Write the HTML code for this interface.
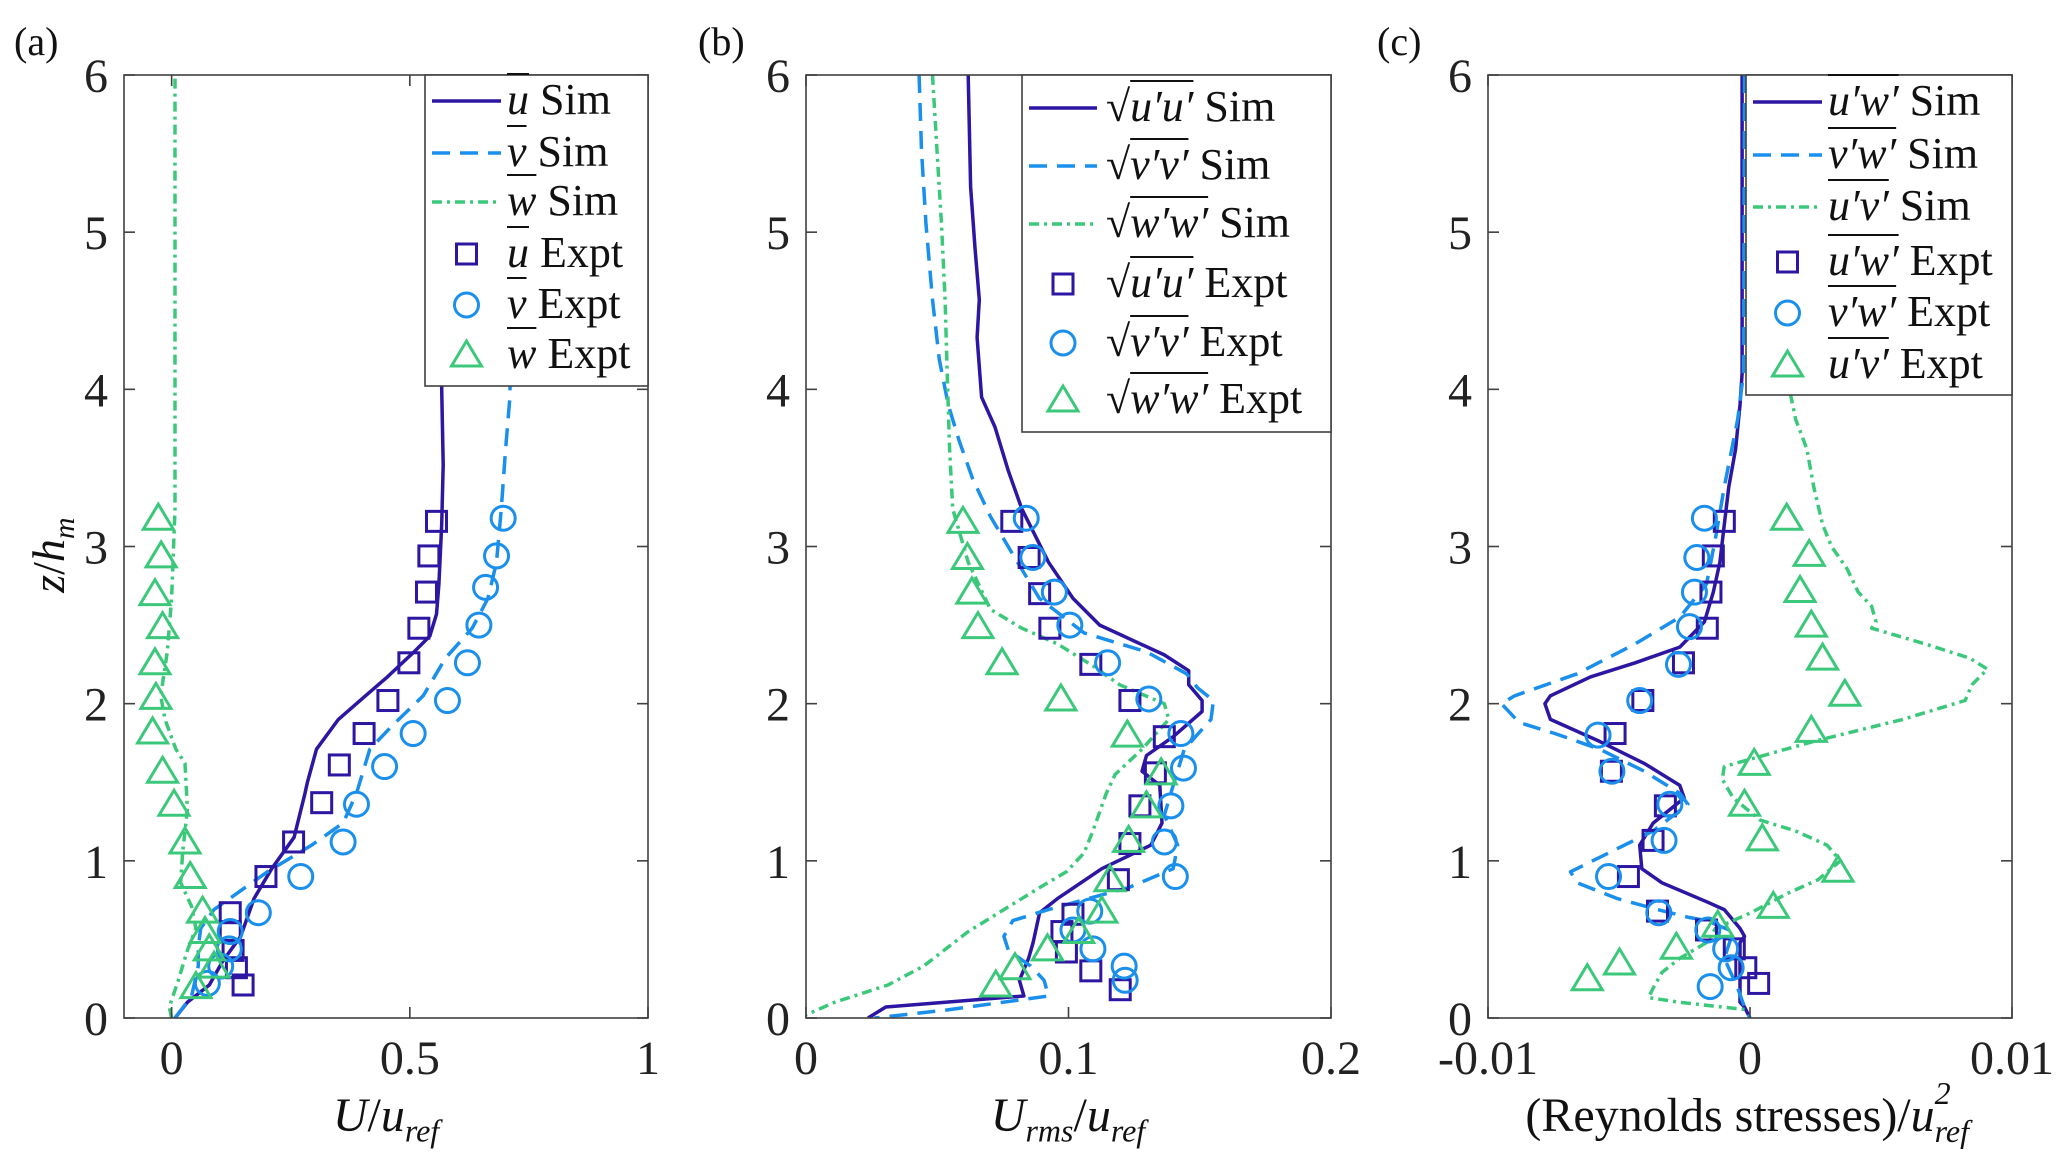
<!DOCTYPE html>
<html><head><meta charset="utf-8">
<style>
body{margin:0;background:#fff;}
#wrap{position:relative;width:2067px;height:1173px;overflow:hidden;font-family:"Liberation Serif",serif;}
svg{position:absolute;left:0;top:0;}
svg text{font-family:"Liberation Serif",serif;}
.lt{position:absolute;font-size:44px;white-space:nowrap;line-height:1;color:#111;font-family:"Liberation Serif",serif;}
.ov{text-decoration:overline;text-decoration-thickness:2px;font-style:italic;}
.it{font-style:italic;}
</style></head>
<body>
<div id="wrap">
<svg id="chart" width="2067" height="1173"></svg>
</div>
<script>
// ---------- Panel (a) data ----------
const aUExptX=[0.556,0.540,0.535,0.519,0.498,0.454,0.404,0.352,0.315,0.256,0.198,0.123,0.123,0.129,0.136,0.150];
const aUExptZ=[3.16,2.94,2.71,2.48,2.26,2.02,1.81,1.61,1.37,1.12,0.90,0.67,0.55,0.43,0.32,0.21];
const aVExptX=[0.696,0.682,0.659,0.645,0.621,0.579,0.507,0.447,0.388,0.360,0.271,0.182,0.123,0.121,0.103,0.075];
const aVExptZ=[3.18,2.94,2.74,2.50,2.26,2.02,1.81,1.60,1.36,1.12,0.90,0.67,0.55,0.44,0.33,0.22];
const aWExptX=[-0.028,-0.022,-0.035,-0.019,-0.035,-0.033,-0.040,-0.019,0.005,0.028,0.039,0.065,0.070,0.079,0.089,0.051];
const aWExptZ=[3.18,2.94,2.70,2.49,2.26,2.04,1.82,1.57,1.36,1.12,0.90,0.68,0.55,0.44,0.33,0.20];
const aUSimX=[0.007,0.033,0.079,0.107,0.145,0.173,0.210,0.257,0.280,0.285,0.304,0.350,0.407,0.453,0.509,0.542,0.556,0.561,0.567,0.570,0.567,0.570];
const aUSimZ=[0,0.10,0.21,0.36,0.52,0.76,0.95,1.15,1.43,1.50,1.71,1.90,2.05,2.17,2.33,2.43,2.57,2.76,3.14,3.52,4.0,6.0];
const aVSimX=[0.007,0.042,0.056,0.056,0.061,0.089,0.145,0.201,0.294,0.360,0.388,0.416,0.463,0.528,0.575,0.631,0.664,0.682,0.692,0.701,0.710,0.720];
const aVSimZ=[0,0.14,0.33,0.45,0.57,0.69,0.81,0.93,1.10,1.24,1.43,1.71,1.86,2.05,2.29,2.48,2.67,2.90,3.24,3.62,3.95,6.0];
const aWSimX=[0,-0.005,0.014,0.033,0.051,0.042,0.019,0.023,0.033,0.028,0.009,-0.014,-0.023,-0.009,0,0.007,0.007,0.007];
const aWSimZ=[0,0.07,0.24,0.43,0.57,0.71,0.86,1.05,1.33,1.62,1.71,1.90,2.05,2.33,2.67,3.24,4.1,6.0];
const aXTicks=[0,0.5,1]; const aXTickLabels=["0","0.5","1"];
// ---------- Panel (b) data ----------
const bUExptX=[0.0784,0.0850,0.0890,0.0929,0.1085,0.1234,0.1365,0.1331,0.1272,0.1234,0.1190,0.1017,0.0975,0.0992,0.1085,0.1197];
const bUExptZ=[3.16,2.93,2.70,2.48,2.25,2.02,1.79,1.56,1.35,1.11,0.88,0.66,0.55,0.42,0.30,0.18];
const bVExptX=[0.0839,0.0864,0.0946,0.1005,0.1149,0.1306,0.1428,0.1438,0.1390,0.1365,0.1407,0.1081,0.1017,0.1093,0.1212,0.1216];
const bVExptZ=[3.18,2.93,2.71,2.50,2.26,2.03,1.81,1.59,1.35,1.12,0.90,0.68,0.56,0.44,0.33,0.24];
const bWExptX=[0.0598,0.0615,0.0632,0.0655,0.0747,0.0971,0.1224,0.1353,0.1297,0.1229,0.1158,0.1127,0.1039,0.0920,0.0796,0.0723];
const bWExptZ=[3.16,2.93,2.71,2.49,2.26,2.03,1.80,1.56,1.35,1.13,0.88,0.68,0.55,0.44,0.32,0.21];
const bUSimX=[0.0618,0.0627,0.0644,0.0660,0.0652,0.0669,0.0720,0.0771,0.0822,0.0924,0.1017,0.1119,0.1365,0.1458,0.1458,0.1509,0.1509,0.1399,0.1297,0.1280,0.1348,0.1356,0.1314,0.1127,0.0958,0.0890,0.0865,0.0848,0.0813,0.0830,0.0304,0.0236];
const bUSimZ=[6.0,5.29,4.90,4.57,4.33,3.95,3.76,3.48,3.24,2.90,2.67,2.50,2.31,2.21,2.12,2.02,1.95,1.79,1.67,1.57,1.48,1.24,1.10,0.95,0.76,0.67,0.48,0.38,0.24,0.14,0.07,0];
const bVSimX=[0.0431,0.0440,0.0457,0.0482,0.0508,0.0542,0.0584,0.0635,0.0703,0.0788,0.0889,0.1059,0.1297,0.1450,0.1492,0.1552,0.1543,0.1484,0.1441,0.1399,0.1365,0.1416,0.1399,0.1229,0.1076,0.0924,0.0788,0.0754,0.0771,0.0856,0.0907,0.0924,0.0533,0.0261];
const bVSimZ=[6,5.52,5.05,4.57,4.19,3.90,3.67,3.43,3.19,2.95,2.67,2.45,2.33,2.19,2.10,2.02,1.90,1.79,1.71,1.48,1.29,1.10,0.95,0.83,0.76,0.69,0.62,0.52,0.43,0.33,0.24,0.14,0.05,0];
const bWSimX=[0.0482,0.0499,0.0516,0.0530,0.0538,0.0547,0.0559,0.0618,0.0703,0.0822,0.0958,0.1093,0.1195,0.1365,0.1382,0.1280,0.1178,0.1144,0.1093,0.1059,0.0992,0.0890,0.0754,0.0618,0.0448,0.0312,0.0109,0];
const bWSimZ=[6,5.52,5.05,4.57,4.10,3.62,3.24,2.90,2.60,2.48,2.38,2.24,2.12,2.00,1.90,1.71,1.55,1.43,1.19,1.05,0.93,0.83,0.69,0.55,0.33,0.21,0.10,0.02];
const bXTicks=[0,0.1,0.2]; const bXTickLabels=["0","0.1","0.2"];
// ---------- Panel (c) data (x in 1e-3) ----------
const cUWExptX=[-0.98,-1.40,-1.49,-1.63,-2.54,-4.09,-5.15,-5.29,-3.23,-3.70,-4.64,-3.53,-1.66,-0.60,-0.16,0.33];
const cUWExptZ=[3.16,2.94,2.71,2.48,2.26,2.02,1.81,1.57,1.35,1.13,0.90,0.68,0.56,0.44,0.32,0.22];
const cVWExptX=[-1.74,-2.03,-2.12,-2.31,-2.73,-4.21,-5.80,-5.27,-3.06,-3.28,-5.40,-3.48,-1.61,-0.93,-0.72,-1.52];
const cVWExptZ=[3.18,2.93,2.71,2.49,2.25,2.02,1.80,1.57,1.36,1.13,0.90,0.67,0.56,0.44,0.32,0.20];
const cUVExptX=[1.40,2.26,1.91,2.34,2.77,3.62,2.34,0.16,-0.21,0.47,3.36,0.89,-1.23,-2.81,-4.98,-6.21];
const cUVExptZ=[3.18,2.95,2.72,2.50,2.29,2.06,1.83,1.62,1.36,1.14,0.94,0.71,0.59,0.45,0.35,0.25];
const cUWSimX=[-0.30,-0.30,-0.38,-0.55,-0.81,-0.98,-1.15,-1.40,-1.74,-2.68,-4.38,-6.09,-7.62,-7.83,-7.62,-5.74,-4.04,-2.68,-2.51,-3.70,-4.21,-4.13,-3.36,-1.66,-0.98,-0.38,-0.21,-0.38,-0.38,-0.21,0];
const cUWSimZ=[6,4.10,3.90,3.62,3.38,3.14,2.90,2.71,2.52,2.36,2.26,2.17,2.05,2.00,1.90,1.76,1.62,1.48,1.40,1.24,1.10,0.95,0.86,0.74,0.69,0.57,0.52,0.48,0.10,0.07,0];
const cVWSimX=[-0.21,-0.25,-0.47,-0.98,-1.32,-1.66,-2.68,-4.38,-6.60,-8.98,-9.49,-8.81,-7.45,-5.74,-4.04,-2.68,-2.37,-3.70,-5.40,-6.85,-6.60,-5.06,-3.53,-2.34,-1.66,-0.64,-0.98,-0.47,-0.21,0];
const cVWSimZ=[6,4.10,3.81,3.38,3.05,2.76,2.55,2.38,2.19,2.05,2.00,1.88,1.81,1.71,1.57,1.43,1.36,1.19,1.05,0.93,0.86,0.76,0.69,0.64,0.62,0.55,0.38,0.19,0.07,0];
const cUVSimX=[0,0.3,1.0,1.40,1.57,1.74,2.17,2.43,2.77,3.11,3.70,4.13,4.64,4.81,4.64,6.68,8.38,9.06,8.47,8.21,5.83,2.43,-0.98,-1.06,-0.64,0.38,1.74,2.94,3.45,2.60,1.40,0.04,-1.32,-1.66,-2.68,-3.36,-3.70,-3.87,-2.68,0];
const cUVSimZ=[6,5,4.4,4.1,3.95,3.81,3.62,3.38,3.14,3.00,2.86,2.71,2.62,2.52,2.48,2.38,2.29,2.22,2.12,2.02,1.90,1.76,1.60,1.52,1.40,1.26,1.19,1.10,1.00,0.88,0.79,0.67,0.57,0.48,0.38,0.29,0.19,0.13,0.10,0.05];
const cXTicks=[-10,0,10]; const cXTickLabels=["-0.01","0","0.01"];
const zTicks=[0,1,2,3,4,5,6];

const C_U='#2c16a2', C_V='#1a8fec', C_W='#3cc87a';
const NS='http://www.w3.org/2000/svg';
const svg=document.getElementById('chart');
function mk(tag,attrs,parent){const e=document.createElementNS(NS,tag);for(const k in attrs)e.setAttribute(k,attrs[k]);(parent||svg).appendChild(e);return e;}

function panel(p){
  const g=mk('g',{});
  
  
  const X=v=>p.L+(v-p.xmin)/(p.xmax-p.xmin)*(p.R-p.L);
  const Z=v=>p.B-(v/6)*(p.B-p.T);
  const clipId='clip'+p.key;
  const cp=mk('clipPath',{id:clipId},g); mk('rect',{x:p.L,y:p.T,width:p.R-p.L,height:p.B-p.T},cp);
  const plot=mk('g',{'clip-path':'url(#'+clipId+')'},g);
  p.lines.forEach(s=>{
    const d=s.x.map((v,i)=>(i?'L':'M')+X(v).toFixed(1)+','+Z(s.z[i]).toFixed(1)).join('');
    const path=mk('path',{d:d,fill:'none',stroke:s.c,'stroke-width':3.5,'stroke-dasharray':s.dash||'none','stroke-linejoin':'round'},plot);
    
    
  });
  p.marks.forEach(s=>{
    s.x.forEach((v,i)=>{
      const m=marker(plot,s.m,X(v),Z(s.z[i]),s.c);
      
      
    });
  });
  const box=mk('rect',{x:p.L,y:p.T,width:p.R-p.L,height:p.B-p.T,fill:'none',stroke:'#404040','stroke-width':1.6},g);
  
  
  zTicks.forEach(t=>{
    const y=Z(t);
    mk('line',{x1:p.L,x2:p.L+11,y1:y,y2:y,stroke:'#404040','stroke-width':1.6},g);
    mk('line',{x1:p.R,x2:p.R-11,y1:y,y2:y,stroke:'#404040','stroke-width':1.6},g);
    const tx=mk('text',{x:p.L-16,y:y+17,'text-anchor':'end','font-size':48,fill:'#222'},g);
    tx.textContent=String(t);
    
    
  });
  p.xt.forEach((t,i)=>{
    const x=X(t);
    mk('line',{x1:x,x2:x,y1:p.B,y2:p.B-11,stroke:'#404040','stroke-width':1.6},g);
    mk('line',{x1:x,x2:x,y1:p.T,y2:p.T+11,stroke:'#404040','stroke-width':1.6},g);
    const tx=mk('text',{x:x,y:p.B+56,'text-anchor':'middle','font-size':48,fill:'#222'},g);
    tx.textContent=p.xl[i];
    
    
  });
  const lg=p.leg;
  const lb=mk('rect',{x:lg.x0,y:p.T,width:p.R-lg.x0,height:lg.y1-p.T,fill:'#fff',stroke:'#404040','stroke-width':1.6},g);
  
  
  p.lines.forEach((s,i)=>{
    const y=lg.rows[i];
    const l=mk('line',{x1:lg.l0,x2:lg.l1,y1:y,y2:y,stroke:s.c,'stroke-width':3.5,'stroke-dasharray':s.dash||'none'},g);
    
    
  });
  p.marks.forEach((s,i)=>{
    const m=marker(g,s.m,(lg.l0+lg.l1)/2,lg.rows[i+3],s.c);
    
    
  });
}
function marker(parent,type,x,y,c){
  if(type==='s') return mk('rect',{x:x-10,y:y-10,width:20,height:20,fill:'none',stroke:c,'stroke-width':3},parent);
  if(type==='o') return mk('circle',{cx:x,cy:y,r:12,fill:'none',stroke:c,'stroke-width':3},parent);
  return mk('path',{d:`M${x-15},${y+11}L${x+15},${y+11}L${x},${y-14}Z`,fill:'none',stroke:c,'stroke-width':3,'stroke-linejoin':'miter'},parent);
}
const DASH='18 10', DOT='10 5 3 5';
panel({key:'a',name:'panel-a-mean-velocity',L:124,R:648,T:75,B:1018,xmin:-0.1,xmax:1,xt:aXTicks,xl:aXTickLabels,
  lines:[{name:'u-sim-line',x:aUSimX,z:aUSimZ,c:C_U},{name:'v-sim-line',x:aVSimX,z:aVSimZ,c:C_V,dash:DASH},{name:'w-sim-line',x:aWSimX,z:aWSimZ,c:C_W,dash:DOT}],
  marks:[{name:'u-expt',x:aUExptX,z:aUExptZ,c:C_U,m:'s'},{name:'v-expt',x:aVExptX,z:aVExptZ,c:C_V,m:'o'},{name:'w-expt',x:aWExptX,z:aWExptZ,c:C_W,m:'t'}],
  leg:{x0:425,y1:386,l0:432,l1:501,rows:[101,153,202,254,305,355]}});
panel({key:'b',name:'panel-b-rms-velocity',L:806,R:1331,T:75,B:1018,xmin:0,xmax:0.2,xt:bXTicks,xl:bXTickLabels,
  lines:[{name:'urms-sim-line',x:bUSimX,z:bUSimZ,c:C_U},{name:'vrms-sim-line',x:bVSimX,z:bVSimZ,c:C_V,dash:DASH},{name:'wrms-sim-line',x:bWSimX,z:bWSimZ,c:C_W,dash:DOT}],
  marks:[{name:'urms-expt',x:bUExptX,z:bUExptZ,c:C_U,m:'s'},{name:'vrms-expt',x:bVExptX,z:bVExptZ,c:C_V,m:'o'},{name:'wrms-expt',x:bWExptX,z:bWExptZ,c:C_W,m:'t'}],
  leg:{x0:1022,y1:432,l0:1029,l1:1097,rows:[108,166,224,284,343,400]}});
panel({key:'c',name:'panel-c-reynolds-stress',L:1488,R:2012,T:75,B:1018,xmin:-10,xmax:10,xt:cXTicks,xl:cXTickLabels,
  lines:[{name:'uw-sim-line',x:cUWSimX,z:cUWSimZ,c:C_U},{name:'vw-sim-line',x:cVWSimX,z:cVWSimZ,c:C_V,dash:DASH},{name:'uv-sim-line',x:cUVSimX,z:cUVSimZ,c:C_W,dash:DOT}],
  marks:[{name:'uw-expt',x:cUWExptX,z:cUWExptZ,c:C_U,m:'s'},{name:'vw-expt',x:cVWExptX,z:cVWExptZ,c:C_V,m:'o'},{name:'uv-expt',x:cUVExptX,z:cUVExptZ,c:C_W,m:'t'}],
  leg:{x0:1746,y1:395,l0:1753,l1:1822,rows:[102,155,207,262,313,365]}});
</script>
<!-- panel letters -->
<div class="lt" style="left:14px;top:22px;font-size:40px">(a)</div>
<div class="lt" style="left:698px;top:22px;font-size:40px">(b)</div>
<div class="lt" style="left:1377px;top:22px;font-size:40px">(c)</div>
<!-- y label -->
<div class="lt" style="left:-12px;top:528px;font-size:46px;width:130px;text-align:center;transform:rotate(-90deg)"><span class="it">z</span>/<span class="it">h<sub style="font-size:30px">m</sub></span></div>
<!-- x labels -->
<div class="lt" style="left:286px;top:1092px;font-size:48px;width:200px;text-align:center"><span class="it">U</span>/<span class="it">u<sub style="font-size:32px">ref</sub></span></div>
<div class="lt" style="left:918px;top:1092px;font-size:48px;width:300px;text-align:center"><span class="it">U<sub style="font-size:32px">rms</sub></span>/<span class="it">u<sub style="font-size:32px">ref</sub></span></div>
<div class="lt" style="left:1492px;top:1092px;font-size:48px;width:520px;text-align:center">(Reynolds stresses)/<span class="it" style="position:relative;padding-right:44px">u<span style="position:absolute;left:24px;top:-12px;font-size:32px">2</span><span style="position:absolute;left:24px;top:26px;font-size:32px">ref</span></span></div>
<!-- legend a -->
<div class="lt" style="left:507px;top:78px"><span class="ov">u</span> Sim</div>
<div class="lt" style="left:507px;top:130px"><span class="ov">v</span> Sim</div>
<div class="lt" style="left:507px;top:179px"><span class="ov">w</span> Sim</div>
<div class="lt" style="left:507px;top:231px"><span class="ov">u</span> Expt</div>
<div class="lt" style="left:507px;top:282px"><span class="ov">v</span> Expt</div>
<div class="lt" style="left:507px;top:332px"><span class="ov">w</span> Expt</div>
<!-- legend b -->
<div class="lt" style="left:1106px;top:85px">√<span class="ov">u′u′</span> Sim</div>
<div class="lt" style="left:1106px;top:143px">√<span class="ov">v′v′</span> Sim</div>
<div class="lt" style="left:1106px;top:201px">√<span class="ov">w′w′</span> Sim</div>
<div class="lt" style="left:1106px;top:261px">√<span class="ov">u′u′</span> Expt</div>
<div class="lt" style="left:1106px;top:320px">√<span class="ov">v′v′</span> Expt</div>
<div class="lt" style="left:1106px;top:377px">√<span class="ov">w′w′</span> Expt</div>
<!-- legend c -->
<div class="lt" style="left:1828px;top:79px"><span class="ov">u′w′</span> Sim</div>
<div class="lt" style="left:1828px;top:132px"><span class="ov">v′w′</span> Sim</div>
<div class="lt" style="left:1828px;top:184px"><span class="ov">u′v′</span> Sim</div>
<div class="lt" style="left:1828px;top:239px"><span class="ov">u′w′</span> Expt</div>
<div class="lt" style="left:1828px;top:290px"><span class="ov">v′w′</span> Expt</div>
<div class="lt" style="left:1828px;top:342px"><span class="ov">u′v′</span> Expt</div>
</body></html>
